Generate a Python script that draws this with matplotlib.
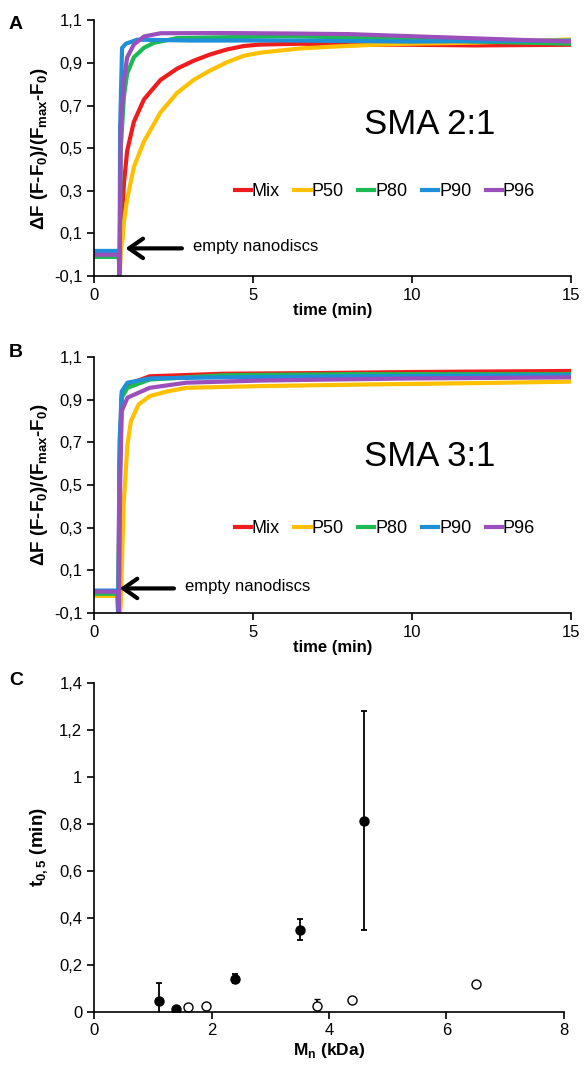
import matplotlib
matplotlib.use("Agg")
import matplotlib.pyplot as plt
from matplotlib.ticker import FuncFormatter

plt.rcParams["font.family"] = ["Liberation Sans", "DejaVu Sans"]
plt.rcParams["mathtext.fontset"] = "custom"
plt.rcParams["mathtext.rm"] = "Liberation Sans"
plt.rcParams["mathtext.bf"] = "Liberation Sans:bold"

SERIES = ["Mix", "P50", "P80", "P90", "P96"]
COLORS = ["#ee1c1c", "#ffc000", "#1db954", "#1f8fd8", "#9a4fbc"]

# panel A (SMA 2:1), time in min, normalised fluorescence
A_T_MIX = [0, 0.78, 0.80, 0.84, 0.89, 0.94, 1.04, 1.25, 1.57, 2.09, 2.61, 3.13, 3.66, 4.18, 4.7, 5.22, 6.5, 8, 10, 12, 15]
A_MIX = [0.005, 0.005, -0.12, 0.1, 0.215, 0.336, 0.487, 0.623, 0.729, 0.82, 0.873, 0.91, 0.94, 0.963, 0.979, 0.986, 0.99, 0.985, 0.985, 0.982, 0.985]
A_T_P50 = [0, 0.78, 0.80, 0.84, 0.89, 0.94, 1.04, 1.25, 1.57, 2.09, 2.61, 3.13, 3.66, 4.18, 4.7, 5.22, 6.5, 7.6, 8.8, 10, 12, 15]
A_P50 = [0.0, 0.0, -0.12, 0.03, 0.063, 0.154, 0.26, 0.411, 0.532, 0.668, 0.759, 0.82, 0.865, 0.903, 0.933, 0.948, 0.968, 0.977, 0.985, 0.99, 0.995, 1.01]
A_T_P80 = [0, 0.78, 0.80, 0.84, 0.94, 1.04, 1.25, 1.57, 1.88, 2.6, 4, 6, 8, 10, 12, 15]
A_P80 = [-0.01, -0.01, -0.12, 0.5, 0.744, 0.85, 0.926, 0.971, 0.994, 1.016, 1.02, 1.025, 1.02, 1.01, 1.0, 0.99]
A_T_P90 = [0, 0.78, 0.80, 0.82, 0.88, 1.0, 1.36, 3, 6, 10, 15]
A_P90 = [0.018, 0.018, -0.12, 0.6, 0.97, 0.99, 1.009, 1.005, 1.005, 1.0, 1.005]
A_T_P96 = [0, 0.78, 0.80, 0.84, 0.94, 1.04, 1.25, 1.57, 2.09, 4, 6, 8, 10, 12, 15]
A_P96 = [0.0, 0.0, -0.12, 0.6, 0.82, 0.926, 0.986, 1.024, 1.039, 1.04, 1.038, 1.035, 1.025, 1.015, 1.0]

# panel B (SMA 3:1)
B_T_MIX = [0, 0.74, 0.76, 0.80, 0.87, 1.05, 1.75, 4.07, 7, 10, 15]
B_MIX = [0.0, 0.0, -0.12, 0.6, 0.925, 0.972, 1.01, 1.022, 1.025, 1.03, 1.035]
B_T_P50 = [0, 0.78, 0.80, 0.84, 0.93, 1.05, 1.16, 1.4, 1.75, 2.33, 2.91, 5.2, 8.7, 12, 15]
B_P50 = [-0.02, -0.02, -0.12, -0.06, 0.41, 0.69, 0.8, 0.878, 0.917, 0.94, 0.956, 0.964, 0.972, 0.978, 0.985]
B_T_P80 = [0, 0.74, 0.76, 0.80, 0.87, 1.05, 1.75, 4.07, 8, 15]
B_P80 = [-0.01, -0.01, -0.12, 0.5, 0.91, 0.956, 0.995, 1.015, 1.02, 1.02]
B_T_P90 = [0, 0.74, 0.76, 0.80, 0.87, 1.05, 1.75, 4, 8, 15]
B_P90 = [0.005, 0.005, -0.12, 0.7, 0.94, 0.98, 1.0, 1.005, 1.01, 1.015]
B_T_P96 = [0, 0.76, 0.78, 0.82, 0.87, 1.05, 1.75, 2.9, 5.2, 10, 15]
B_P96 = [0.0, 0.0, -0.12, 0.5, 0.847, 0.91, 0.956, 0.98, 0.99, 1.0, 1.005]

# panel C, t0.5 vs Mn
C_MN_FILLED = [1.1, 1.4, 2.4, 3.5, 4.6]
C_T_FILLED = [0.045, 0.012, 0.14, 0.35, 0.815]
C_ERR_FILLED = [0.075, 0.0, 0.02, 0.044, 0.465]
C_MN_OPEN = [1.6, 1.9, 3.8, 4.4, 6.5]
C_T_OPEN = [0.02, 0.022, 0.022, 0.05, 0.117]
C_ERR_OPEN = [0.0, 0.0, 0.03, 0.0, 0.0]

A_DATA = [(A_T_MIX, A_MIX), (A_T_P50, A_P50), (A_T_P80, A_P80), (A_T_P90, A_P90), (A_T_P96, A_P96)]
B_DATA = [(B_T_MIX, B_MIX), (B_T_P50, B_P50), (B_T_P80, B_P80), (B_T_P90, B_P90), (B_T_P96, B_P96)]


def comma_fmt(v, pos):
    return f"{v:.10g}".replace(".", ",")


def style_axes(ax):
    for side in ["top", "right"]:
        ax.spines[side].set_visible(False)
    for side in ["left", "bottom"]:
        ax.spines[side].set_linewidth(1.2)
    ax.tick_params(direction="out", length=5, width=1.2, labelsize=12)
    ax.yaxis.set_major_formatter(FuncFormatter(comma_fmt))


def kinetics_panel(ax, data, title, title_y, arrow_head, arrow_tail):
    for (t, v), name, color in zip(data, SERIES, COLORS):
        ax.plot(t, v, color=color, lw=3, label=name)
    ax.set_xlim(0, 15)
    ax.set_ylim(-0.1, 1.1)
    ax.set_xticks([0, 5, 10, 15])
    ax.set_yticks([-0.1, 0.1, 0.3, 0.5, 0.7, 0.9, 1.1])
    style_axes(ax)
    ax.set_xlabel("time (min)", fontsize=12, fontweight="bold", labelpad=0)
    ax.set_ylabel(r"ΔF (F-F$_\mathbf{0}$)/(F$_\mathbf{max}$-F$_\mathbf{0}$)",
                  fontsize=13.5, fontweight="bold", labelpad=3)
    ax.text(10.55, title_y, title, fontsize=25, ha="center", va="center")
    ax.legend(loc="center", bbox_to_anchor=(0.61, 0.33), ncol=5, frameon=False,
              handlelength=0.9, handletextpad=0.05, columnspacing=0.8, fontsize=13)
    ax.annotate("", xy=arrow_head, xytext=arrow_tail,
                arrowprops=dict(arrowstyle="->,head_length=0.5,head_width=0.35",
                                lw=3, color="black", mutation_scale=20))
    ax.text(arrow_tail[0] + 0.25, arrow_tail[1] + 0.01, "empty nanodiscs",
            fontsize=12, va="center")


fig = plt.figure(figsize=(5.88, 10.66), dpi=100)
ax_a = fig.add_axes([0.160, 0.741, 0.811, 0.240])
ax_b = fig.add_axes([0.160, 0.425, 0.811, 0.240])
ax_c = fig.add_axes([0.160, 0.051, 0.799, 0.308])

kinetics_panel(ax_a, A_DATA, "SMA 2:1", 0.61, (0.9, 0.03), (2.85, 0.03))
kinetics_panel(ax_b, B_DATA, "SMA 3:1", 0.635, (0.72, 0.015), (2.6, 0.015))

ax_c.errorbar(C_MN_FILLED, C_T_FILLED, yerr=C_ERR_FILLED, fmt="o", color="black",
              ms=6.5, elinewidth=1.3, capsize=2.5, capthick=1.3)
ax_c.errorbar(C_MN_OPEN, C_T_OPEN, yerr=C_ERR_OPEN, fmt="o", color="black",
              mfc="white", mec="black", ms=6.5, mew=1.0, elinewidth=1.3,
              capsize=2.5, capthick=1.3)
ax_c.set_xlim(0, 8)
ax_c.set_ylim(0, 1.4)
ax_c.set_xticks([0, 2, 4, 6, 8])
ax_c.set_yticks([0, 0.2, 0.4, 0.6, 0.8, 1.0, 1.2, 1.4])
style_axes(ax_c)
ax_c.set_xlabel(r"M$_\mathbf{n}$ (kDa)", fontsize=12.5, fontweight="bold", labelpad=2)
ax_c.set_ylabel(r"t$_\mathbf{0,5}$ (min)", fontsize=13.5, fontweight="bold", labelpad=6)

for label, y in [("A", 0.985), ("B", 0.677), ("C", 0.37)]:
    fig.text(0.015, y, label, fontsize=14, fontweight="bold", va="top")

fig.savefig("out.png", dpi=100)
